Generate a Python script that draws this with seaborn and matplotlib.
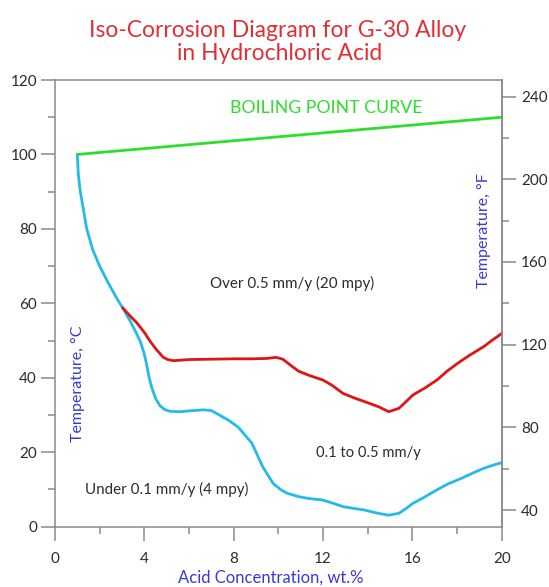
import numpy as np
import pandas as pd
import matplotlib
matplotlib.use("Agg")
import matplotlib.pyplot as plt
from matplotlib.ticker import MultipleLocator
import seaborn as sns

# ---- data ----
boil_x = [1.0, 20.0]
boil_y = [100.0, 110.0]

low_x = [1.0, 1.04, 1.12, 1.25, 1.42, 1.69, 2.0, 2.4, 2.8, 3.05, 3.36, 3.6, 3.81, 3.97,
         4.1, 4.2, 4.33, 4.5, 4.7, 4.9, 5.15, 5.6, 6.2, 6.64, 7.0, 7.39, 7.8, 8.21,
         8.82, 9.3, 9.77, 10.1, 10.39, 10.9, 11.33, 11.96, 12.4, 12.9, 13.4, 13.84,
         14.47, 14.94, 15.4, 15.7, 16.03, 16.5, 17.1, 17.6, 18.2, 18.7, 19.2, 19.6, 20.0]
low_y = [100, 95, 90.5, 86, 80, 74.4, 70, 65.3, 61, 58.6, 55.3, 52.5, 49.9, 47,
         43.7, 40.5, 37.4, 34.5, 32.5, 31.5, 31.0, 30.9, 31.2, 31.4, 31.2, 29.9, 28.5,
         26.7, 22.4, 16.1, 11.6, 10.0, 9.0, 8.1, 7.6, 7.2, 6.4, 5.4, 4.9, 4.5,
         3.6, 3.1, 3.6, 4.8, 6.3, 7.8, 9.9, 11.5, 13.0, 14.4, 15.7, 16.5, 17.2]

high_x = [3.03, 3.3, 3.66, 4.0, 4.25, 4.55, 4.85, 5.05, 5.3, 6.0, 6.94, 8.0, 8.8, 9.48,
          9.9, 10.2, 10.5, 10.9, 11.4, 12.0, 12.4, 12.9, 13.4, 14.0, 14.5, 14.94, 15.4,
          15.7, 16.03, 16.6, 17.1, 17.6, 18.1, 18.6, 19.2, 19.6, 20.0]
high_y = [58.8, 57.0, 54.8, 52.2, 49.9, 47.5, 45.5, 44.9, 44.6, 44.9, 45.0, 45.1, 45.1,
          45.2, 45.5, 45.0, 43.6, 41.8, 40.6, 39.4, 38.0, 35.8, 34.6, 33.3, 32.2, 30.9,
          31.8, 33.5, 35.4, 37.4, 39.4, 42.0, 44.2, 46.2, 48.4, 50.2, 51.9]

title_lines = ["Iso-Corrosion Diagram for G-30 Alloy", "in Hydrochloric Acid"]
x_label = "Acid Concentration, wt.%"
yc_label = "Temperature, °C"
yf_label = "Temperature, °F"
region_labels = ["BOILING POINT CURVE", "Over 0.5 mm/y (20 mpy)",
                 "0.1 to 0.5 mm/y", "Under 0.1 mm/y (4 mpy)"]
region_x = [12.15, 10.6, 14.05, 5.0]
region_y = [112.5, 65.4, 19.9, 10.1]

# ---- styling ----
sns.set_style("white")
plt.rcParams["font.family"] = ["Lato", "DejaVu Sans"]

GREEN = "#2ede2e"
RED = "#dd1515"
CYAN = "#22bbea"
BLUE_TXT = "#3a3ad6"
TXT = "#2b2b2b"
SPINE = "#8a8a8a"

W, H = 549, 587
fig = plt.figure(figsize=(W / 100, H / 100), dpi=100)
ax = fig.add_axes([0.1002, 0.1027, 0.8136, 0.761])

sns.lineplot(x=low_x, y=low_y, sort=False, ax=ax, color=CYAN, linewidth=2.0)
sns.lineplot(x=boil_x, y=boil_y, sort=False, ax=ax, color=GREEN, linewidth=2.0)
sns.lineplot(x=high_x, y=high_y, sort=False, ax=ax, color=RED, linewidth=2.0)

ax.set_xlim(0, 20)
ax.set_ylim(0, 120)
ax.xaxis.set_major_locator(MultipleLocator(4))
ax.xaxis.set_minor_locator(MultipleLocator(2))
ax.yaxis.set_major_locator(MultipleLocator(20))
ax.yaxis.set_minor_locator(MultipleLocator(10))

for s in ax.spines.values():
    s.set_color(SPINE)
    s.set_linewidth(1.1)

ax.tick_params(axis="both", which="major", direction="out", length=10, width=1.1,
               color=SPINE, labelsize=11, labelcolor=TXT, pad=3)
ax.tick_params(axis="both", which="minor", direction="out", length=5, width=1.1,
               color=SPINE)
ax.tick_params(axis="x", which="major", pad=8)
ax.tick_params(left=True, bottom=True, which="both")

def c2f(c):
    return np.asarray(c) * 9.0 / 5.0 + 32.0

def f2c(f):
    return (np.asarray(f) - 32.0) * 5.0 / 9.0

sec = ax.secondary_yaxis("right", functions=(c2f, f2c))
sec.set_yticks([40, 80, 120, 160, 200, 240])
sec.yaxis.set_minor_locator(MultipleLocator(20))
sec.tick_params(axis="y", which="major", direction="out", length=10, width=1.1,
                color=SPINE, labelsize=11, labelcolor=TXT, pad=4)
sec.tick_params(axis="y", which="minor", direction="out", length=5, width=1.1,
                color=SPINE)
sec.spines["right"].set_color(SPINE)
sec.spines["right"].set_linewidth(1.1)

ax.set_xlabel("")
ax.set_ylabel("")

# axis labels (placed as in the reference)
fig.text(270.5 / W, 1 - 578 / H, x_label, ha="center", va="center",
         color=BLUE_TXT, fontsize=12)
ax.text(1.05, 38.5, yc_label, rotation=90, ha="center", va="center",
        color=BLUE_TXT, fontsize=11.5)
ax.text(19.2, 79.5, yf_label, rotation=90, ha="center", va="center",
        color=BLUE_TXT, fontsize=11.5)

# title (two lines, explicit baselines)
fig.text(278 / W, 1 - 36.7 / H, title_lines[0], ha="center", va="baseline",
         color="#e03036", fontsize=16.5)
fig.text(280 / W, 1 - 60 / H, title_lines[1], ha="center", va="baseline",
         color="#e03036", fontsize=16.5)

# region labels
colors = [GREEN, TXT, TXT, TXT]
sizes = [12.8, 10.9, 10.6, 10.9]
for lab, xx, yy, cc, ss in zip(region_labels, region_x, region_y, colors, sizes):
    ax.text(xx, yy, lab, ha="center", va="center", color=cc, fontsize=ss)

fig.savefig("out.png", dpi=100)
